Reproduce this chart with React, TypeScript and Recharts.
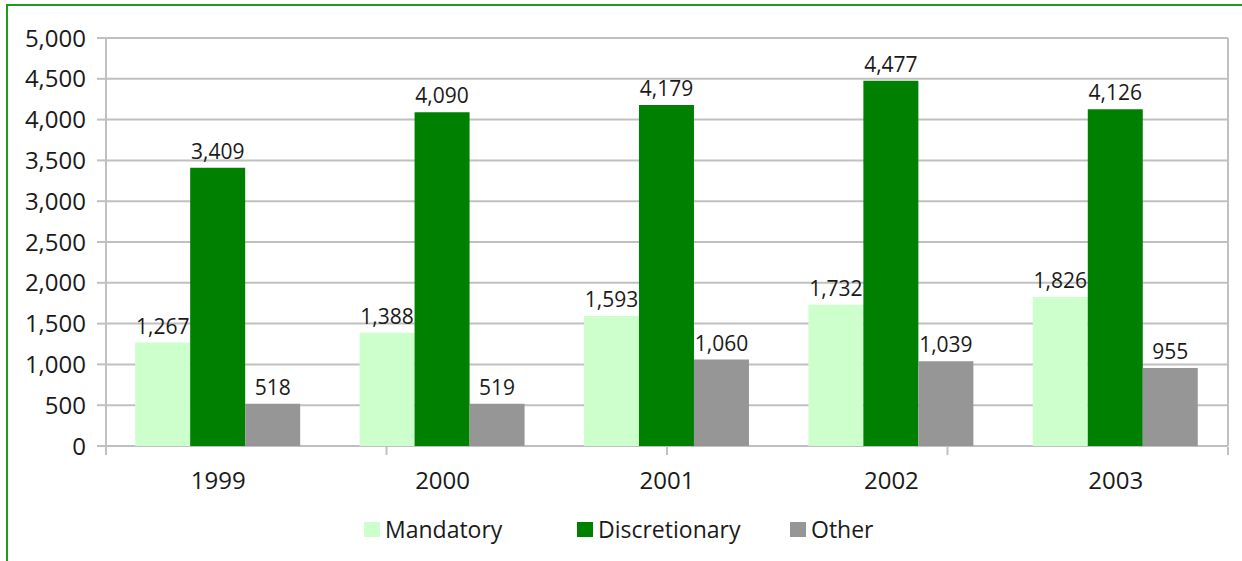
import React from 'react';
import { BarChart, Bar, XAxis, YAxis, CartesianGrid, LabelList } from 'recharts';

const categories = ['1999', '2000', '2001', '2002', '2003'];
const mandatory = [1267, 1388, 1593, 1732, 1826];
const discretionary = [3409, 4090, 4179, 4477, 4126];
const other = [518, 519, 1060, 1039, 955];
const yTicks = [0, 500, 1000, 1500, 2000, 2500, 3000, 3500, 4000, 4500, 5000];
const edgeTicks = [0, 1, 2, 3, 4, 5];

const seriesNames = ['Mandatory', 'Discretionary', 'Other'];
const seriesColors = ['#ccffcc', '#008000', '#969696'];

const data = categories.map((c, i) => ({
  year: c,
  Mandatory: mandatory[i],
  Discretionary: discretionary[i],
  Other: other[i],
}));

const FONT = '"Open Sans", "DejaVu Sans", sans-serif';
const TEXT = '#1a1a1a';
const GRID = '#c0c0c0';
const fmt = (v: any) => Number(v).toLocaleString('en-US');

export default function App() {
  return (
    <div style={{ position: 'absolute', left: 0, top: 0, width: 1242, height: 561, background: '#fff', overflow: 'hidden', fontFamily: FONT }}>
      <div style={{ position: 'absolute', left: 6, top: 4, width: 1240, height: 560, borderTop: '2px solid #1f9a1f', borderLeft: '2px solid #1f9a1f' }} />
      <div style={{ position: 'absolute', left: 0, top: 0 }}>
        <BarChart
          width={1242}
          height={561}
          data={data}
          margin={{ top: 38, right: 13, left: 0, bottom: 55 }}
          barCategoryGap="13%"
          barGap={0}
        >
          <CartesianGrid vertical={false} stroke={GRID} strokeWidth={2} />
          <XAxis
            dataKey="year"
            height={1}
            tickLine={false}
            axisLine={false}
            tickSize={0}
            tickMargin={26}
            tick={{ fontSize: 24, fill: TEXT, fontFamily: FONT }}
          />
          <XAxis
            xAxisId="edges"
            type="number"
            domain={[0, 5]}
            ticks={edgeTicks}
            interval={0}
            allowDataOverflow
            height={59}
            tickFormatter={() => ''}
            tick={{ fontSize: 1, fill: 'none' }}
            tickSize={8}
            tickLine={{ stroke: GRID, strokeWidth: 2 }}
            axisLine={false}
          />
          <YAxis
            domain={[0, 5000]}
            ticks={yTicks}
            width={106}
            tickSize={9}
            tickMargin={11}
            tickFormatter={fmt}
            tick={{ fontSize: 24, fill: TEXT, fontFamily: FONT }}
            tickLine={{ stroke: GRID, strokeWidth: 2 }}
            axisLine={{ stroke: GRID, strokeWidth: 2 }}
          />
          <YAxis
            yAxisId="right"
            orientation="right"
            domain={[0, 5000]}
            width={1}
            tick={false}
            tickLine={false}
            axisLine={{ stroke: GRID, strokeWidth: 2 }}
          />
          {seriesNames.map((name, i) => (
            <Bar key={name} dataKey={name} fill={seriesColors[i]} isAnimationActive={false}>
              <LabelList
                dataKey={name}
                position="top"
                offset={9}
                formatter={fmt}
                style={{ fontSize: 21, fill: TEXT, fontFamily: FONT }}
              />
            </Bar>
          ))}
        </BarChart>
      </div>
      <div style={{ position: 'absolute', left: 364, top: 513, display: 'flex', alignItems: 'center' }}>
        {seriesNames.map((name, i) => (
          <div key={name} style={{ width: 213, display: 'flex', alignItems: 'center' }}>
            <div style={{ width: 16, height: 15, background: seriesColors[i], marginRight: 5 }} />
            <span style={{ fontSize: 23, color: TEXT, fontFamily: FONT }}>{name}</span>
          </div>
        ))}
      </div>
    </div>
  );
}
